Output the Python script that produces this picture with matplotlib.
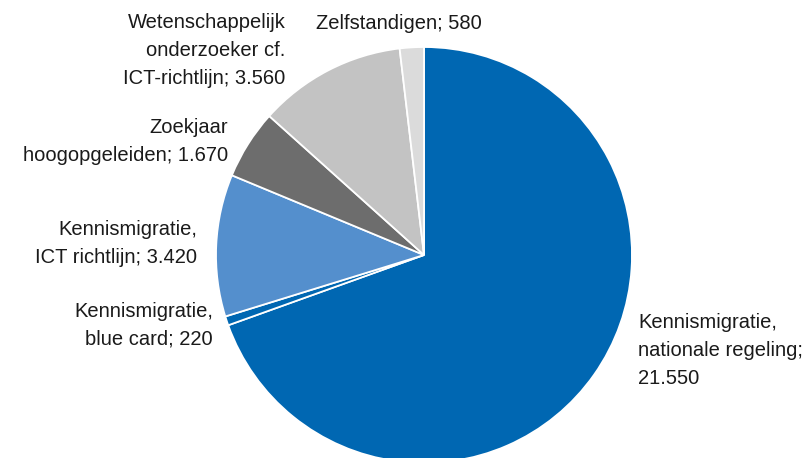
import matplotlib
matplotlib.use("Agg")
import matplotlib.pyplot as plt
import numpy as np

plt.rcParams['font.family'] = ['Liberation Sans', 'DejaVu Sans']

categories = [
    "Kennismigratie,\nnationale regeling;\n21.550",
    "Kennismigratie,\nblue card; 220",
    "Kennismigratie,\nICT richtlijn; 3.420",
    "Zoekjaar\nhoogopgeleiden; 1.670",
    "Wetenschappelijk\nonderzoeker cf.\nICT-richtlijn; 3.560",
    "Zelfstandigen; 580",
]
values = [21550, 220, 3420, 1670, 3560, 580]
colors = ["#0067b2", "#0067b2", "#548fcd", "#6d6d6d", "#c3c3c3", "#dbdbdb"]

# label anchor points (in pie-radius units) and horizontal alignment
label_pos = [(1.03, -0.46), (-1.015, -0.337), (-1.09, 0.053),
             (-0.94, 0.548), (-0.665, 0.985), (-0.12, 1.115)]
label_ha = ["left", "right", "right", "right", "right", "center"]

W, H, DPI = 809, 458, 100
cx, cy, r = 424, 255, 208

fig = plt.figure(figsize=(W / DPI, H / DPI), dpi=DPI)
ax = fig.add_axes([0, 0, 1, 1])
ax.pie(values, colors=colors, startangle=90, counterclock=False, radius=1,
       wedgeprops=dict(edgecolor="white", linewidth=1.3))
ax.set_aspect("auto")
ax.set_xlim(-cx / r, (W - cx) / r)
ax.set_ylim(-(H - cy) / r, cy / r)
ax.axis("off")

for text, (x, y), ha in zip(categories, label_pos, label_ha):
    ax.text(x, y, text, ha=ha, va="center", fontsize=14.5, color="#1a1a1a",
            linespacing=1.6, multialignment=ha)

fig.savefig("out.png", dpi=DPI)
